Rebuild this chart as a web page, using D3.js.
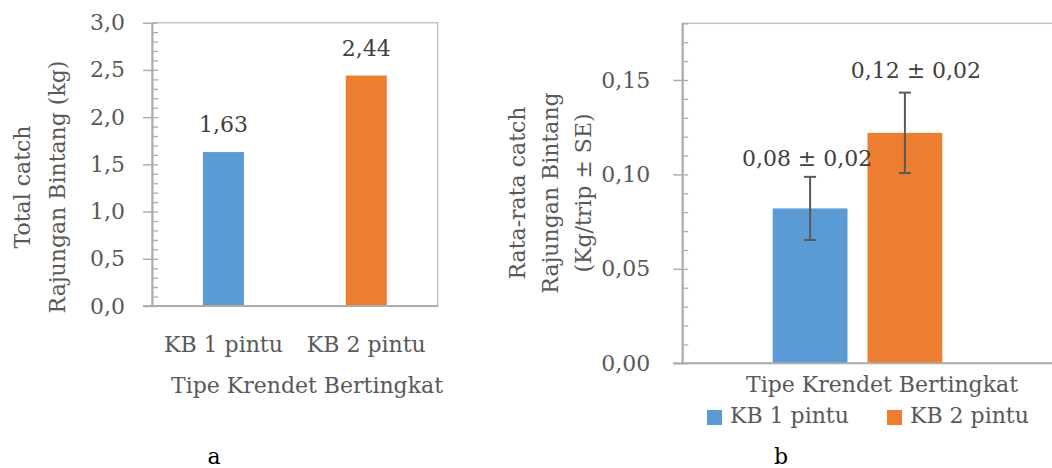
<!DOCTYPE html>
<html><head><meta charset="utf-8">
<script src="https://cdn.jsdelivr.net/npm/d3@7"></script>
<style>
body{margin:0;background:#fff;}
svg{display:block;font-family:"DejaVu Serif",serif;}
</style></head>
<body>
<svg id="c" width="1052" height="468"></svg>
<script>
// ---- data ----
const categories = ["KB 1 pintu", "KB 2 pintu"];
const totalCatch = [1.63, 2.44];
const totalLabels = ["1,63", "2,44"];
const meanCatch = [0.082, 0.122];
const seCatch = [0.0167, 0.0213];
const meanLabels = ["0,08 ± 0,02", "0,12 ± 0,02"];
const leftTicks = [0, 0.5, 1.0, 1.5, 2.0, 2.5, 3.0];
const rightTicks = [0, 0.05, 0.10, 0.15];
const colors = ["#5B9BD5", "#ED7D31"];

const svg = d3.select("#c");
const fs = 22;
const textCol = "#595959";
const axisCol = "#ADADAD";
const fmt1 = d => d3.format(".1f")(d).replace(".", ",");
const fmt2 = d => d3.format(".2f")(d).replace(".", ",");

// ================= Chart a =================
const A = {l:152, r:437.7, t:22.7, b:306};
const yA = d3.scaleLinear().domain([0, 3]).range([A.b, A.t]);
const xA = d3.scaleBand().domain(categories).range([A.l, A.r]).paddingInner(0.713).paddingOuter(0.3565);
const gA = svg.append("g");
// plot border
gA.append("rect").attr("x", A.l).attr("y", A.t).attr("width", A.r - A.l).attr("height", A.b - A.t)
  .attr("fill", "none").attr("stroke", "#C4C4C4").attr("stroke-width", 1.5);
// bars
gA.selectAll(".bar").data(categories).join("rect")
  .attr("x", d => xA(d)).attr("width", xA.bandwidth())
  .attr("y", (d,i) => yA(totalCatch[i])).attr("height", (d,i) => yA(0) - yA(totalCatch[i]))
  .attr("fill", (d,i) => colors[i]);
// minor ticks inside
const minorA = d3.range(0, 31).map(i => i / 10);
gA.append("g").attr("transform", `translate(${A.l},0)`)
  .call(d3.axisRight(yA).tickValues(minorA).tickSize(6).tickFormat(""))
  .call(g => { g.select(".domain").remove(); g.selectAll("line").attr("stroke", axisCol).attr("stroke-width", 1.3); });
// major axis
gA.append("g").attr("transform", `translate(${A.l},0)`)
  .call(d3.axisLeft(yA).tickValues(leftTicks).tickSize(9).tickSizeOuter(0).tickPadding(18).tickFormat(fmt1))
  .call(g => {
    g.select(".domain").attr("stroke", axisCol).attr("stroke-width", 2);
    g.selectAll("line").attr("stroke", axisCol).attr("stroke-width", 1.5);
    g.selectAll("text").attr("fill", textCol).style("font-size", fs + "px").style("font-family", "DejaVu Serif");
  });
// baseline
gA.append("line").attr("x1", A.l - 9).attr("x2", A.r).attr("y1", yA(0)).attr("y2", yA(0))
  .attr("stroke", axisCol).attr("stroke-width", 2);
// x labels
gA.selectAll(".xl").data(categories).join("text")
  .attr("x", d => xA(d) + xA.bandwidth() / 2).attr("y", 352)
  .attr("text-anchor", "middle").attr("fill", textCol).style("font-size", fs + "px").text(d => d);
// data labels
gA.selectAll(".dl").data(categories).join("text")
  .attr("x", d => xA(d) + xA.bandwidth() / 2).attr("y", (d,i) => yA(totalCatch[i]) - 20)
  .attr("text-anchor", "middle").attr("fill", "#404040").style("font-size", fs + "px").text((d,i) => totalLabels[i]);
// x title
gA.append("text").attr("x", 307).attr("y", 393).attr("text-anchor", "middle")
  .attr("fill", textCol).style("font-size", fs + "px").text("Tipe Krendet Bertingkat");
// y title
const ytA = gA.append("text").attr("transform", "translate(0,187) rotate(-90)")
  .attr("text-anchor", "middle").attr("fill", textCol).style("font-size", fs + "px");
ytA.append("tspan").attr("x", 0).attr("y", 30).text("Total catch");
ytA.append("tspan").attr("x", 0).attr("y", 65).text("Rajungan Bintang (kg)");
// panel letter
svg.append("text").attr("x", 214).attr("y", 464).attr("text-anchor", "middle")
  .attr("fill", "#000").style("font-size", fs + "px").text("a");

// ================= Chart b =================
const B = {l:682.3, r:1060, t:23.3, b:363.3};
const yB = d3.scaleLinear().domain([0, 0.18]).range([B.b, B.t]);
const xB = d3.scaleBand().domain(categories).range([772.7, 942.3]).paddingInner(0.211);
const gB = svg.append("g");
gB.append("rect").attr("x", B.l).attr("y", B.t).attr("width", B.r - B.l).attr("height", B.b - B.t)
  .attr("fill", "none").attr("stroke", "#C4C4C4").attr("stroke-width", 1.5);
gB.selectAll(".bar").data(categories).join("rect")
  .attr("x", d => xB(d)).attr("width", xB.bandwidth())
  .attr("y", (d,i) => yB(meanCatch[i])).attr("height", (d,i) => yB(0) - yB(meanCatch[i]))
  .attr("fill", (d,i) => colors[i]);
// error bars
const eb = gB.selectAll(".eb").data(categories).join("g")
  .attr("transform", d => `translate(${xB(d) + xB.bandwidth() / 2},0)`)
  .attr("stroke", "#595959").attr("stroke-width", 2);
eb.append("line").attr("y1", (d,i) => yB(meanCatch[i] - seCatch[i])).attr("y2", (d,i) => yB(meanCatch[i] + seCatch[i]));
eb.append("line").attr("x1", -6).attr("x2", 6).attr("y1", (d,i) => yB(meanCatch[i] - seCatch[i])).attr("y2", (d,i) => yB(meanCatch[i] - seCatch[i]));
eb.append("line").attr("x1", -6).attr("x2", 6).attr("y1", (d,i) => yB(meanCatch[i] + seCatch[i])).attr("y2", (d,i) => yB(meanCatch[i] + seCatch[i]));
// minor ticks
const minorB = d3.range(0, 19).map(i => i / 100);
gB.append("g").attr("transform", `translate(${B.l},0)`)
  .call(d3.axisRight(yB).tickValues(minorB).tickSize(6).tickFormat(""))
  .call(g => { g.select(".domain").remove(); g.selectAll("line").attr("stroke", axisCol).attr("stroke-width", 1.3); });
gB.append("g").attr("transform", `translate(${B.l},0)`)
  .call(d3.axisLeft(yB).tickValues(rightTicks).tickSize(9).tickSizeOuter(0).tickPadding(23).tickFormat(fmt2))
  .call(g => {
    g.select(".domain").attr("stroke", axisCol).attr("stroke-width", 2);
    g.selectAll("line").attr("stroke", axisCol).attr("stroke-width", 1.5);
    g.selectAll("text").attr("fill", textCol).style("font-size", fs + "px").style("font-family", "DejaVu Serif");
  });
gB.append("line").attr("x1", B.l - 9).attr("x2", B.r).attr("y1", yB(0)).attr("y2", yB(0))
  .attr("stroke", axisCol).attr("stroke-width", 2);
// labels
gB.selectAll(".dl").data(categories).join("text")
  .attr("x", (d,i) => xB(d) + xB.bandwidth() / 2 + (i === 0 ? -3 : 11))
  .attr("y", (d,i) => yB(meanCatch[i] + seCatch[i]) - (i === 0 ? 11 : 15))
  .attr("text-anchor", "middle").attr("fill", "#404040").style("font-size", fs + "px").text((d,i) => meanLabels[i]);
// x title
gB.append("text").attr("x", 882).attr("y", 392).attr("text-anchor", "middle")
  .attr("fill", textCol).style("font-size", fs + "px").text("Tipe Krendet Bertingkat");
// y title
const ytB = gB.append("text").attr("transform", "translate(0,193) rotate(-90)")
  .attr("text-anchor", "middle").attr("fill", textCol).style("font-size", fs + "px");
ytB.append("tspan").attr("x", 0).attr("y", 525).text("Rata-rata catch");
ytB.append("tspan").attr("x", 0).attr("y", 558).text("Rajungan Bintang");
ytB.append("tspan").attr("x", 0).attr("y", 591).text("(Kg/trip ± SE)");
// legend
const legX = [707, 887];
const leg = gB.selectAll(".leg").data(categories).join("g")
  .attr("transform", (d,i) => `translate(${legX[i]},410)`);
leg.append("rect").attr("width", 15).attr("height", 15).attr("fill", (d,i) => colors[i]);
leg.append("text").attr("x", 23).attr("y", 13).attr("fill", textCol).style("font-size", fs + "px").text(d => d);
svg.append("text").attr("x", 781).attr("y", 464).attr("text-anchor", "middle")
  .attr("fill", "#000").style("font-size", fs + "px").text("b");
</script>
</body></html>
